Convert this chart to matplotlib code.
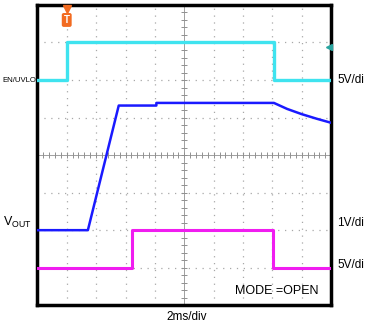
import numpy as np
import matplotlib.pyplot as plt

plt.rcParams['font.family'] = ['Liberation Sans', 'DejaVu Sans']
plt.rcParams['mathtext.fontset'] = 'custom'
plt.rcParams['mathtext.rm'] = 'Liberation Sans'

# traces, in screen divisions (10 x 8 grid)
en_t = [0, 1.0, 1.0, 8.05, 8.05, 10]
en_v = [6.0, 6.0, 7.0, 7.0, 6.0, 6.0]

vout_t = [0, 1.72, 2.77, 4.05, 4.05, 8.05, 8.5, 9.0, 9.5, 10]
vout_v = [2.0, 2.0, 5.32, 5.32, 5.39, 5.39, 5.23, 5.09, 4.97, 4.86]

mode_t = [0, 3.22, 3.22, 8.03, 8.03, 10]
mode_v = [1.0, 1.0, 2.0, 2.0, 1.0, 1.0]

left_labels = ['EN/UVLO', r'V$_{\mathrm{OUT}}$']
left_pos = [6.0, 2.2]
right_labels = ['5V/di', '1V/di', '5V/di']
right_pos = [6.0, 2.2, 1.08]

fig = plt.figure(figsize=(3.66, 3.30), dpi=100)
ax = fig.add_axes([0.102, 0.075, 0.803, 0.910])
ax.set_xlim(0, 10)
ax.set_ylim(0, 8)
ax.set_xticks([])
ax.set_yticks([])
for s in ax.spines.values():
    s.set_linewidth(2.5)
    s.set_color('black')

# dotted grid
for x in range(1, 10):
    if x != 5:
        ax.axvline(x, color='#a8a8a8', lw=0.9, ls=(0, (1, 4.5)), zorder=1)
for y in range(1, 8):
    if y != 4:
        ax.axhline(y, color='#a8a8a8', lw=0.9, ls=(0, (1, 4.5)), zorder=1)

# centre axes with minor ticks
ax.axvline(5, color='#909090', lw=0.6, zorder=1)
ax.axhline(4, color='#909090', lw=0.6, zorder=1)
sub_x = np.arange(0, 10.01, 0.2)
sub_y = np.arange(0, 8.01, 0.2)
ax.plot(sub_x, np.full_like(sub_x, 4), ls='none', marker='|', ms=5, mew=0.7, color='#909090', zorder=1)
ax.plot(np.full_like(sub_y, 5), sub_y, ls='none', marker='_', ms=5, mew=0.7, color='#909090', zorder=1)

ax.plot(en_t, en_v, color='#3fe3ef', lw=2.4, zorder=3)
ax.plot(vout_t, vout_v, color='#1a1aff', lw=1.8, zorder=3)
ax.plot(mode_t, mode_v, color='#f01df0', lw=2.2, zorder=3)

# trigger marker and level marker
ax.plot([1.0], [7.9], marker='v', ms=6, color='#f26b21', clip_on=False, zorder=5)
ax.text(1.0, 7.6, 'T', color='white', fontsize=7, fontweight='bold', ha='center', va='center',
        bbox=dict(boxstyle='round,pad=0.2', fc='#f26b21', ec='none'), zorder=5)
ax.plot([9.93], [6.87], marker='<', ms=5, color='#2aa5a0', clip_on=False, zorder=5)

ax.text(-0.005, left_pos[0], left_labels[0], fontsize=5.6, ha='right', va='center',
        transform=ax.get_yaxis_transform(), clip_on=False)
ax.text(-0.02, left_pos[1], left_labels[1], fontsize=9, ha='right', va='center',
        transform=ax.get_yaxis_transform(), clip_on=False)
for lab, y in zip(right_labels, right_pos):
    ax.text(1.02, y, lab, fontsize=8.5, ha='left', va='center',
            transform=ax.get_yaxis_transform(), clip_on=False)

ax.text(6.72, 0.39, 'MODE =OPEN', fontsize=9, ha='left', va='center')
fig.text(0.511, 0.04, '2ms/div', fontsize=8.5, ha='center', va='center')

fig.savefig('out.png', dpi=100)
